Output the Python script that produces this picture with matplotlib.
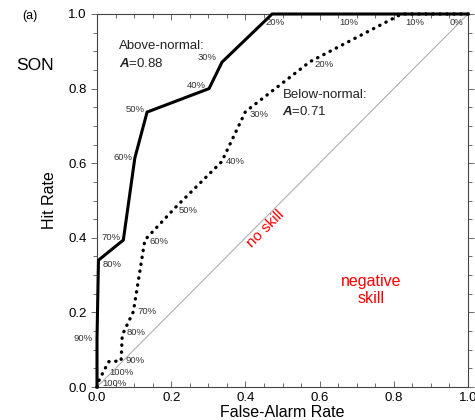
import matplotlib
matplotlib.use("Agg")
import matplotlib.pyplot as plt
import numpy as np

plt.rcParams['font.family'] = ['Liberation Sans', 'DejaVu Sans']
plt.rcParams['mathtext.fontset'] = 'custom'
plt.rcParams['mathtext.bfit'] = 'Liberation Sans:italic:bold'

# above-normal ROC (solid)
above_far = [0.0, 0.0, 0.004, 0.071, 0.102, 0.135, 0.302, 0.337, 0.472, 0.68, 1.0]
above_hr = [0.0, 0.13, 0.34, 0.394, 0.614, 0.737, 0.80, 0.871, 1.0, 1.0, 1.0]
above_lab = ['', '90%', '80%', '70%', '60%', '50%', '40%', '30%', '20%', '10%', '0%']

# below-normal ROC (dotted)
below_far = [0.0, 0.0035, 0.022, 0.032, 0.065, 0.068, 0.098, 0.129, 0.21, 0.336, 0.40, 0.574, 0.821, 1.0]
below_hr = [0.0, 0.014, 0.05, 0.068, 0.07, 0.139, 0.202, 0.394, 0.48, 0.604, 0.738, 0.872, 1.0, 1.0]
below_lab = ['', '100%', '100%', '', '90%', '80%', '70%', '60%', '50%', '40%', '30%', '20%', '10%', '']

# label offsets in points (dx, dy, ha, va)
above_off = [None, (-3, 0, 'right', 'center'), (3, -3, 'left', 'center'), (-2, 2, 'right', 'center'),
             (-2, 0, 'right', 'center'), (-2, 2, 'right', 'center'), (-2, 2, 'right', 'center'),
             (-4, 3, 'right', 'center'), (2, -3, 'center', 'top'), (0, -3, 'center', 'top'),
             (-3, -3, 'right', 'top')]
below_off = [None, (3, -1, 'left', 'center'), (3, -3, 'left', 'center'), None, (3, 0, 'left', 'center'),
             (3, 2, 'left', 'center'), (3, 0, 'left', 'center'), (3, -1, 'left', 'center'),
             (3, -2, 'left', 'center'), (3, 0, 'left', 'center'), (3, -2, 'left', 'center'),
             (3, -2, 'left', 'center'), (3, -3, 'left', 'top'), None]

fig = plt.figure(figsize=(4.75, 4.2), dpi=100)
ax = fig.add_axes([97 / 475, 1 - 387 / 420, 371 / 475, 373 / 420])

ax.plot([0, 1], [0, 1], color='#b0b0b0', lw=0.8, zorder=1)
ax.plot(above_far, above_hr, color='black', lw=2.2, solid_joinstyle='miter', clip_on=False, zorder=3)
ax.plot(below_far, below_hr, color='black', lw=2.4, ls=(0, (0.1, 2.0)), dash_capstyle='round',
        clip_on=False, zorder=3)

for x, y, t, o in zip(above_far, above_hr, above_lab, above_off):
    if t and o:
        ax.annotate(t, (x, y), xytext=(o[0], o[1]), textcoords='offset points',
                    ha=o[2], va=o[3], fontsize=6.8, color='#333333', annotation_clip=False)
for x, y, t, o in zip(below_far, below_hr, below_lab, below_off):
    if t and o:
        ax.annotate(t, (x, y), xytext=(o[0], o[1]), textcoords='offset points',
                    ha=o[2], va=o[3], fontsize=6.8, color='#333333', annotation_clip=False)

# curve captions, one text per line
ax.text(0.06, 0.93, 'Above-normal:', fontsize=9.5, va='top', color='#222222')
ax.text(0.06, 0.886, '$\\mathbfit{A}$=0.88', fontsize=9.5, va='top', color='#222222')
ax.text(0.50, 0.80, 'Below-normal:', fontsize=9.5, va='top', color='#222222')
ax.text(0.50, 0.756, '$\\mathbfit{A}$=0.71', fontsize=9.5, va='top', color='#222222')
ax.text(0.455, 0.425, 'no skill', color='red', fontsize=11, rotation=45,
        ha='center', va='center', rotation_mode='anchor')
ax.text(0.74, 0.26, 'negative\nskill', color='red', fontsize=11.5, ha='center', va='center')

ax.set_xlim(0, 1)
ax.set_ylim(0, 1)
ax.set_xticks(np.arange(0, 1.01, 0.2))
ax.set_yticks(np.arange(0, 1.01, 0.2))
ax.set_xticks(np.arange(0, 1.01, 0.05), minor=True)
ax.set_yticks(np.arange(0, 1.01, 0.05), minor=True)
ax.set_xticklabels(['0.0', '0.2', '0.4', '0.6', '0.8', '1.0'])
ax.set_yticklabels(['0.0', '0.2', '0.4', '0.6', '0.8', '1.0'])
ax.tick_params(which='both', top=True, right=True, direction='in', labelsize=9.5,
               color='#555555', width=0.6)
ax.tick_params(axis='y', which='both', left=True, direction='out')
ax.tick_params(which='major', length=4)
ax.tick_params(which='minor', length=3)
for s in ax.spines.values():
    s.set_linewidth(0.8)
    s.set_color('#444444')

ax.set_xlabel('False-Alarm Rate', fontsize=11.5, labelpad=1)
ax.set_ylabel('Hit Rate', fontsize=11.5, labelpad=8)

fig.text(30 / 475, 1 - 16 / 420, '(a)', fontsize=9, ha='center', va='center')
fig.text(35 / 475, 1 - 65 / 420, 'SON', fontsize=12.5, ha='center', va='center')

fig.savefig('out.png', dpi=100)
